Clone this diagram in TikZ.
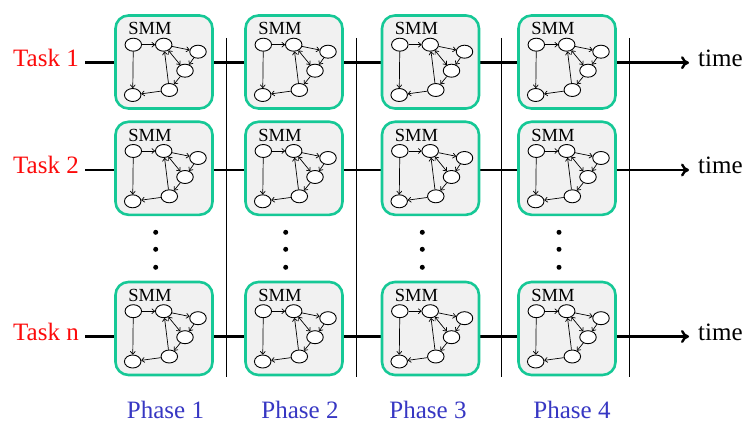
\documentclass[tikz,border=0pt]{standalone}
\usepackage{fontspec}
\setmainfont{Liberation Serif}
\usetikzlibrary{arrows.meta,shapes.geometric}
\definecolor{taskred}{RGB}{252,10,10}
\definecolor{phaseblue}{RGB}{55,55,195}
\definecolor{smmedge}{RGB}{22,200,150}
\definecolor{smmfill}{RGB}{241,241,241}

\begin{document}
\begin{tikzpicture}[x=1pt,y=-1pt,
  smmbox/.style={draw=smmedge, line width=2.6pt, fill=smmfill, rounded corners=13pt,
    minimum width=97pt, minimum height=93pt, inner sep=0pt},
  smmlabel/.style={font=\fontsize{18.5}{20}\selectfont, inner sep=0pt, anchor=base},
  state/.style={ellipse, draw, line width=0.9pt, fill=white,
    minimum width=16.5pt, minimum height=13pt, inner sep=0pt},
  link/.style={line width=0.7pt, -{To[length=3.5pt,width=5.5pt]}},
  duallink/.style={line width=0.7pt, {To[length=3.5pt,width=5.5pt]}-{To[length=3.5pt,width=5.5pt]}},
  timeline/.style={line width=2.9pt, -{To[length=8pt,width=13pt,line width=2.4pt]}},
  phaserule/.style={line width=0.9pt},
  tasklab/.style={font=\fontsize{25}{30}\selectfont, text=taskred, inner sep=0pt, anchor=base east},
  timelab/.style={font=\fontsize{25}{30}\selectfont, inner sep=0pt, anchor=base west},
  phaselab/.style={font=\fontsize{25}{30}\selectfont, text=phaseblue, inner sep=0pt, anchor=base},
  vdot/.style={circle, fill, inner sep=0pt, minimum size=5pt}
]
\useasboundingbox (0,0) rectangle (746,422);

% phase separators
\foreach \k/\vx in {1/226, 2/356, 3/501, 4/629} {
  \coordinate (rtop\k) at (\vx,38);
  \coordinate (rbot\k) at (\vx,377);
  \draw[phaserule] (rtop\k) -- (rbot\k);
}

% task labels, time axes and "time" labels
\foreach \r/\ty/\tb/\tname in {1/62.7/66.7/1, 2/170/173.3/2, 3/336.5/340/n} {
  \node[tasklab] (task\r) at (79,\tb) {Task \tname};
  \coordinate (tstart\r) at (85,\ty);
  \coordinate (tend\r) at (689,\ty);
  \draw[timeline] (tstart\r) -- (tend\r);
  \node[timelab] (time\r) at (698,\tb) {time};
}

% SMM boxes with their small state graphs
\foreach \c/\cx in {1/164, 2/294, 3/430.5, 4/567} {
  \foreach \r/\ry in {1/62, 2/168.3, 3/328.5} {
    \node[smmbox] (box\c\r) at (\cx,\ry) {};
    \node[smmlabel] (smm\c\r) at (\cx-14,\ry-27) {SMM};
    \node[state] (a\c\r) at (\cx-30.7,\ry-17.3) {};
    \node[state] (b\c\r) at (\cx-0.3,\ry-17.3) {};
    \node[state] (c\c\r) at (\cx+34,\ry-10.3) {};
    \node[state] (d\c\r) at (\cx+21,\ry+8.7) {};
    \node[state] (e\c\r) at (\cx+5.3,\ry+28) {};
    \node[state] (f\c\r) at (\cx-31.3,\ry+33) {};
    \draw[link] (a\c\r) -- (b\c\r);
    \draw[link] (a\c\r) -- (f\c\r);
    \draw[link] (b\c\r) -- (c\c\r);
    \draw[link] (c\c\r) -- (d\c\r);
    \draw[duallink] (b\c\r) -- (d\c\r);
    \draw[link] (d\c\r) -- (e\c\r);
    \draw[link] (e\c\r) -- (b\c\r);
    \draw[link] (e\c\r) -- (f\c\r);
  }
}

% vertical ellipsis between Task 2 and Task n
\foreach \c/\dx in {1/155.7, 2/285.7, 3/422.3, 4/559} {
  \foreach \k/\dy in {1/232.3, 2/249.3, 3/267.3} {
    \node[vdot] (dot\c\k) at (\dx,\dy) {};
  }
}

% phase labels
\node[phaselab] (phase1) at (165.5,418) {Phase 1};
\node[phaselab] (phase2) at (300,418) {Phase 2};
\node[phaselab] (phase3) at (428,418) {Phase 3};
\node[phaselab] (phase4) at (572,418) {Phase 4};
\end{tikzpicture}
\end{document}
